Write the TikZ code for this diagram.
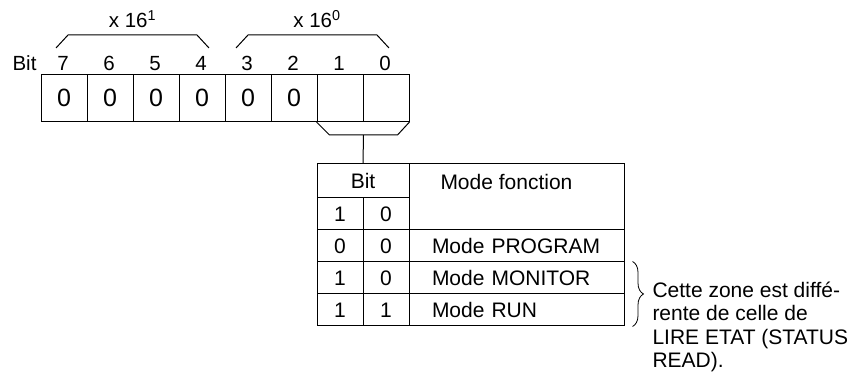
\documentclass[tikz,border=0pt]{standalone}
\usepackage{fontspec}
\setmainfont{Liberation Sans}
\usetikzlibrary{decorations.pathreplacing,calc}
\begin{document}
\begin{tikzpicture}[x=1pt,y=-1pt,line width=1pt,
  txt/.style={font=\fontsize{20.5}{24}\selectfont,inner sep=0pt},
  cell/.style={draw,minimum width=46pt,minimum height=47pt,inner sep=0pt,font=\fontsize{25}{29}\selectfont},
  tcell/.style={draw,minimum height=32pt,inner sep=0pt,font=\fontsize{21}{24}\selectfont},
  bcell/.style={tcell,minimum width=46pt},
  mcell/.style={tcell,minimum width=215pt,text width=169pt,inner xsep=23pt,align=left},
  grp/.style={line join=round}]
\useasboundingbox (0,0) rectangle (868,379);
% bit cells
\node[cell] (c7) at (64,98) {0};
\node[cell] (c6) at (110,98) {0};
\node[cell] (c5) at (156,98) {0};
\node[cell] (c4) at (202,98) {0};
\node[cell] (c3) at (248,98) {0};
\node[cell] (c2) at (294,98) {0};
\node[cell] (c1) at (340,98) {};
\node[cell] (c0) at (386,98) {};
% bit numbers
\node[txt,anchor=base] (bitlbl) at (24.5,70.5) {Bit};
\node[txt,anchor=base] (n7) at (63,70.5) {7};
\node[txt,anchor=base] (n6) at (109,70.5) {6};
\node[txt,anchor=base] (n5) at (155,70.5) {5};
\node[txt,anchor=base] (n4) at (201,70.5) {4};
\node[txt,anchor=base] (n3) at (247,70.5) {3};
\node[txt,anchor=base] (n2) at (293,70.5) {2};
\node[txt,anchor=base] (n1) at (339,70.5) {1};
\node[txt,anchor=base] (n0) at (385,70.5) {0};
% groups
\draw[grp] (56,48) -- (68,35) -- (197,35) -- (209,48);
\draw[grp] (236,48) -- (248,35) -- (377,35) -- (389,48);
\node[txt,anchor=base] (h1) at (132.5,28) {x 16\textsuperscript{1}};
\node[txt,anchor=base] (h0) at (317,28) {x 16\textsuperscript{0}};
% table
\node[tcell,minimum width=92pt,minimum height=34pt] (bith) at (363,181) {Bit};
\node[bcell] (t1a) at (340,214) {1};
\node[bcell] (t1b) at (386,214) {0};
\node[draw,minimum width=215pt,minimum height=66pt,inner sep=0pt] (modeh) at (516.5,197) {};
\node[txt,font=\fontsize{21}{24}\selectfont,anchor=base west] (modet) at (440,189.5) {Mode fonction};
\node[bcell] (t2a) at (340,246) {0};
\node[bcell] (t2b) at (386,246) {0};
\node[mcell] (t2m) at (516.5,246) {Mode PROGRAM};
\node[bcell] (t3a) at (340,278) {1};
\node[bcell] (t3b) at (386,278) {0};
\node[mcell] (t3m) at (516.5,278) {Mode MONITOR};
\node[bcell] (t4a) at (340,310) {1};
\node[bcell] (t4b) at (386,310) {1};
\node[mcell] (t4m) at (516.5,310) {Mode RUN};
% connector
\coordinate (tm) at ($(c1.south east)+(0,13)$);
\draw[grp] (c1.south west) -- ++(13,13) -- ($(c0.south east)+(-12,13)$) -- (c0.south east);
\draw (tm) -- (bith.north);
% brace and note
\draw[decorate,decoration={brace,amplitude=11pt},line width=0.8pt] ($(t3m.north east)+(8,0)$) coordinate (ba) -- ($(t4m.south east)+(8,0)$) coordinate (bb);
\node[txt,anchor=north west,align=left,font=\fontsize{21}{23.5}\selectfont] (note) at (652,281.5) {Cette zone est diff\'e-\\rente de celle de\\LIRE ETAT (STATUS\\READ).};
\end{tikzpicture}
\end{document}
